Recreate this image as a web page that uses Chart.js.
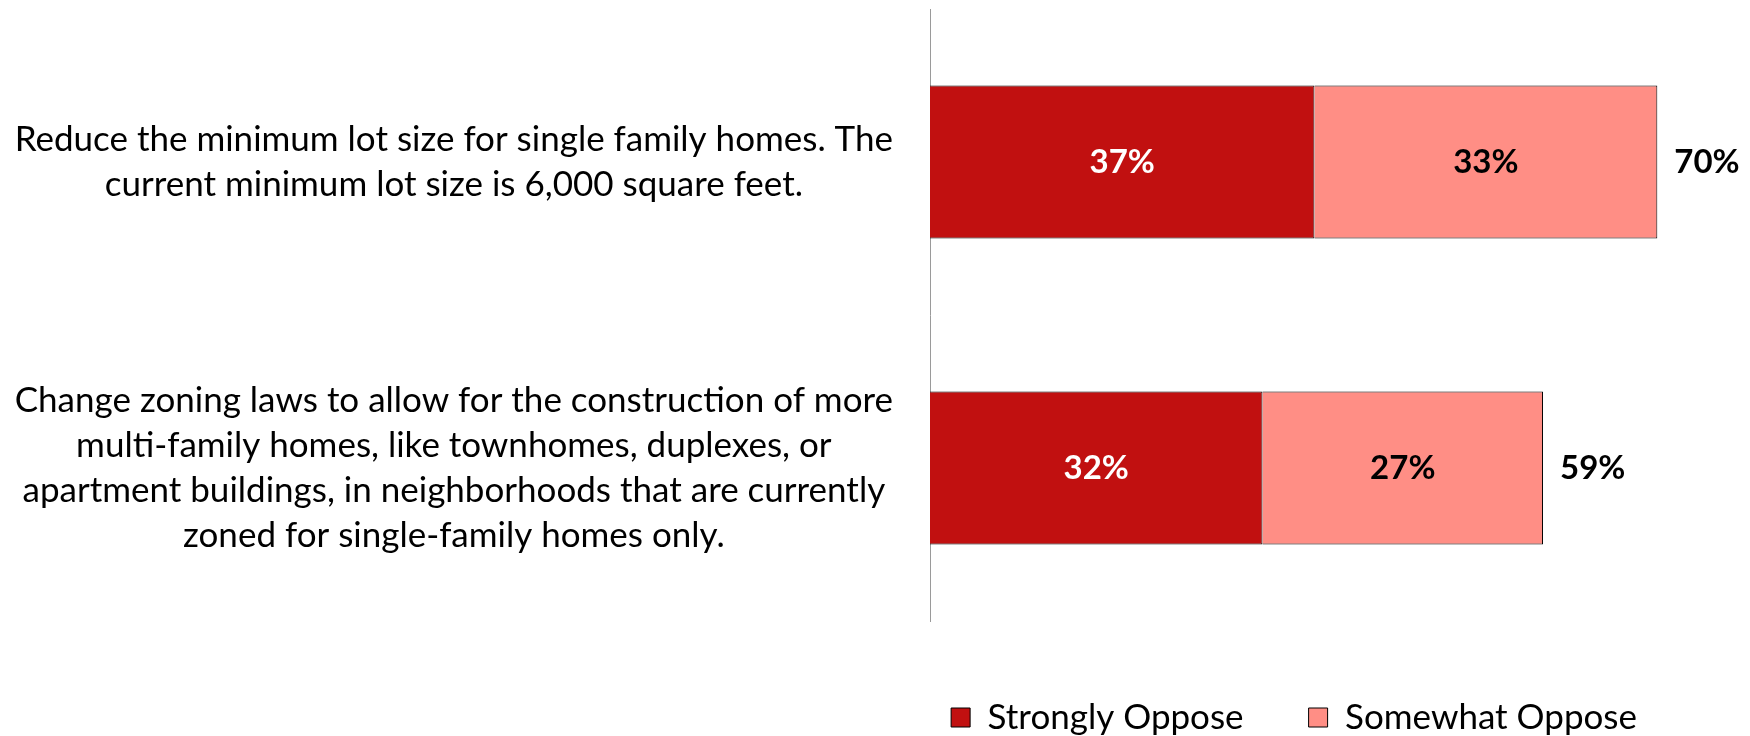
<!DOCTYPE html>
<html>
<head>
<meta charset="utf-8">
<script src="https://cdn.jsdelivr.net/npm/chart.js@4"></script>
<style>
  body { margin: 0; background: #fff; }
  #wrap { width: 1750px; height: 736px; }
</style>
</head>
<body>
<div id="wrap"><canvas id="oppose-chart" width="1750" height="736"></canvas></div>
<script>
// Survey items (each one split into its printed lines)
const statements = [
    ['Reduce the minimum lot size for single family homes. The',
     'current minimum lot size is 6,000 square feet.'],
    ['Change zoning laws to allow for the construction of more',
     'multi-family homes, like townhomes, duplexes, or',
     'apartment buildings, in neighborhoods that are currently',
     'zoned for single-family homes only.']
];
const stronglyOppose = [37, 32];
const somewhatOppose = [33, 27];
const totalOppose = [70, 59];

const FONT = 'Lato, "Noto Sans", sans-serif';

// Percent labels inside each segment and the total at the end of the bar
const valueLabels = {
    id: 'valueLabels',
    afterDatasetsDraw(chart) {
        const ctx = chart.ctx;
        ctx.save();
        ctx.font = 'bold 33px ' + FONT;
        ctx.textBaseline = 'middle';
        ctx.textAlign = 'center';
        chart.data.datasets.forEach((ds, di) => {
            const meta = chart.getDatasetMeta(di);
            meta.data.forEach((bar, i) => {
                ctx.fillStyle = di === 0 ? '#ffffff' : '#000000';
                ctx.fillText(ds.data[i] + '%', (bar.x + bar.base) / 2, bar.y);
            });
        });
        const last = chart.getDatasetMeta(chart.data.datasets.length - 1);
        ctx.textAlign = 'left';
        ctx.fillStyle = '#000000';
        last.data.forEach((bar, i) => {
            ctx.fillText(totalOppose[i] + '%', bar.x + 17, bar.y);
        });
        ctx.restore();
    }
};

// Category text: block right-aligned against the axis, lines centred inside it
const statementLabels = {
    id: 'statementLabels',
    afterDraw(chart) {
        const ctx = chart.ctx;
        const yScale = chart.scales.y;
        const right = 893;
        const lineH = 45;
        ctx.save();
        ctx.font = '35px ' + FONT;
        ctx.fillStyle = '#000000';
        ctx.textAlign = 'center';
        ctx.textBaseline = 'middle';
        statements.forEach((lines, i) => {
            const w = Math.max(...lines.map(l => ctx.measureText(l).width));
            const cx = right - w / 2;
            const cy = yScale.getPixelForValue(i);
            const top = cy - (lines.length - 1) * lineH / 2;
            lines.forEach((l, k) => ctx.fillText(l, cx, top + k * lineH));
        });
        ctx.restore();
    }
};

const opposeChart = new Chart(document.getElementById('oppose-chart').getContext('2d'), {
    type: 'bar',
    data: {
        labels: statements.map(s => s.join(' ')),
        datasets: [
            {
                label: 'Strongly Oppose',
                data: stronglyOppose,
                backgroundColor: '#C11010',
                borderColor: '#000000',
                borderWidth: 1
            },
            {
                label: 'Somewhat Oppose',
                data: somewhatOppose,
                backgroundColor: '#FF8E85',
                borderColor: '#000000',
                borderWidth: 1
            }
        ]
    },
    options: {
        indexAxis: 'y',
        responsive: false,
        animation: false,
        layout: { padding: { top: 9, right: 48, left: 0, bottom: -9 } },
        datasets: { bar: { barPercentage: 1, categoryPercentage: 0.5 } },
        scales: {
            x: {
                stacked: true,
                min: 0,
                max: 74.3,
                ticks: { display: false },
                grid: { display: false },
                border: { display: false },
                afterFit(scale) { scale.height = 14; }
            },
            y: {
                stacked: true,
                ticks: { display: false },
                grid: { display: false },
                border: { display: true, color: '#9a9a9a', width: 1 },
                afterFit(scale) { scale.width = 930; }
            }
        },
        plugins: {
            tooltip: { enabled: false },
            legend: {
                position: 'bottom',
                align: 'end',
                labels: {
                    color: '#000000',
                    font: { family: FONT, size: 35 },
                    boxWidth: 19,
                    boxHeight: 19,
                    padding: 65
                }
            }
        }
    },
    plugins: [valueLabels, statementLabels]
});
</script>
</body>
</html>
